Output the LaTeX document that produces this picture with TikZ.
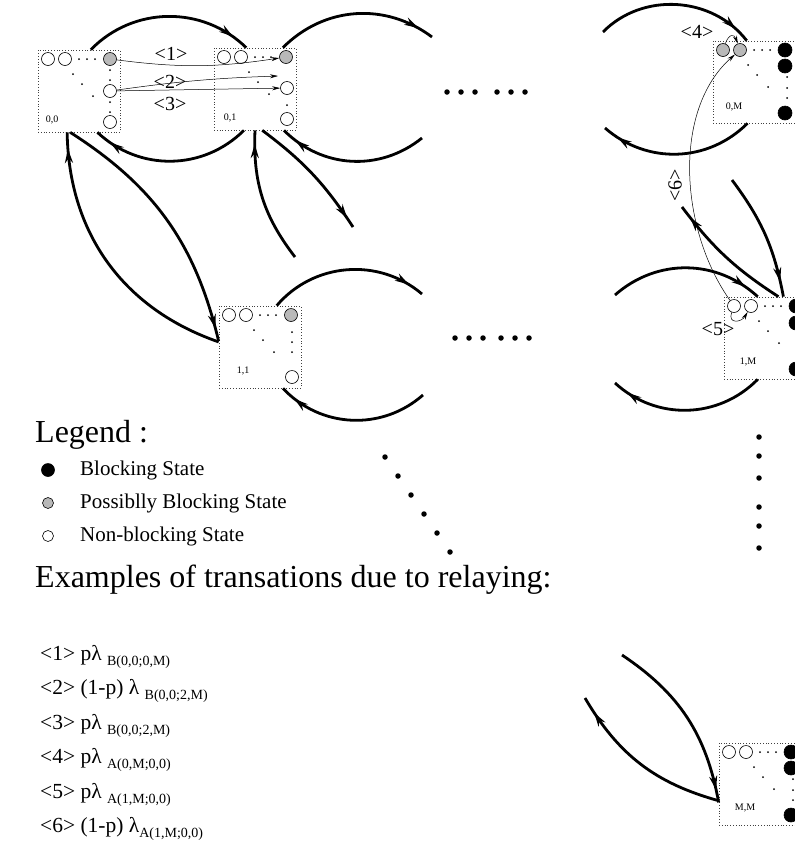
\documentclass[tikz,border=0pt]{standalone}
\usepackage{fontspec}
\setmainfont{Liberation Serif}
\usetikzlibrary{arrows.meta, decorations.markings}

% lowered index after a rate
\newcommand{\rsub}[1]{\raisebox{-5pt}{\fontsize{14}{16}\selectfont #1}}

% one state: dotted frame, top row of circles, diagonal dots, extra column
\newcommand{\statebox}[7]{%
  \begin{scope}[shift={(#2)}]
    \node[stbox] (#1) at (41,41) {};
    \node[boxlabel] (#1-lab) at (#4) {#3};
    \node[#5] (#1-a) at (10,9) {};
    \node[#5] (#1-b) at (27,9) {};
    \node[#6] (#1-c) at (72,9) {};
    \foreach \x [count=\i] in {41,49,57}
      \node[sdot] (#1-r\i) at (\x,9) {};
    \foreach \x/\y [count=\i] in {35/24,44/34,55/46}
      \node[sdot] (#1-d\i) at (\x,\y) {};
    #7
  \end{scope}}

\begin{document}
\begin{tikzpicture}[x=1pt, y=-1pt,
    stbox/.style={rectangle, draw=black!75, dash pattern=on 0.7pt off 2.1pt,
                  line width=0.7pt, minimum width=82pt, minimum height=82pt, inner sep=0pt},
    nonblk/.style={circle, draw, line width=0.6pt, fill=white, minimum size=13pt, inner sep=0pt},
    posblk/.style={nonblk, fill=gray!55},
    blk/.style={nonblk, fill=black, minimum size=14pt},
    sdot/.style={circle, fill=black, minimum size=2pt, inner sep=0pt},
    bdot/.style={circle, fill=black, minimum size=5.5pt, inner sep=0pt},
    boxlabel/.style={font=\fontsize{10}{12}\selectfont, inner sep=0pt},
    tag/.style={font=\fontsize{20}{24}\selectfont, inner sep=1pt},
    flow/.style={line width=2.8pt, postaction={decorate, decoration={markings,
                 mark=at position #1 with {\arrow{Stealth[length=14pt,width=8pt]}}}}},
    flow/.default=0.9,
    relay/.style={-{Stealth[length=8pt,width=4pt]}, line width=0.5pt},
    head/.style={font=\fontsize{32}{38}\selectfont, inner sep=0pt, anchor=base west},
    item/.style={font=\fontsize{21}{25}\selectfont, inner sep=0pt, anchor=west},
    rate/.style={font=\fontsize{21.5}{25}\selectfont, inner sep=0pt, anchor=base west}
  ]
  \useasboundingbox (0,0) rectangle (795,847);
  \clip (0,0) rectangle (795,847);

  % states
  \statebox{s00}{38,50}{0,0}{14,70}{nonblk}{posblk}{%
    \node[nonblk] (s00-m) at (72,41) {};
    \node[nonblk] (s00-e) at (72,72) {};
    \foreach \y [count=\i] in {20,30,52,62} \node[sdot] (s00-v\i) at (72,\y) {};}
  \statebox{s01}{214,48}{0,1}{16,70}{nonblk}{posblk}{%
    \node[nonblk] (s01-m) at (73,40) {};
    \node[nonblk] (s01-e) at (73,71) {};
    \node[sdot] (s01-v1) at (73,57) {};}
  \statebox{s11}{219,306}{1,1}{24,65}{nonblk}{posblk}{%
    \node[nonblk] (s11-e) at (73,71) {};
    \foreach \y [count=\i] in {26,36,46} \node[sdot] (s11-v\i) at (73,\y) {};}
  \statebox{s0M}{713,41}{0,M}{21,66}{posblk}{blk}{%
    \node[blk] (s0M-s) at (72,25) {};
    \node[blk] (s0M-e) at (72,72) {};
    \foreach \y [count=\i] in {36,47,57} \node[sdot] (s0M-v\i) at (74,\y) {};}
  \statebox{s1M}{724,297}{1,M}{24,65}{nonblk}{blk}{%
    \node[blk] (s1M-s) at (72,26) {};
    \node[blk] (s1M-e) at (72,72) {};
    \foreach \y [count=\i] in {37,48,58} \node[sdot] (s1M-v\i) at (74,\y) {};}
  \statebox{sMM}{719,743}{M,M}{26,65}{nonblk}{blk}{%
    \node[blk] (sMM-s) at (72,25) {};
    \node[blk] (sMM-e) at (72,72) {};
    \foreach \y [count=\i] in {36,47,57} \node[sdot] (sMM-v\i) at (74,\y) {};}

  % loose ends of the chain
  \coordinate (e03) at (432,37);
  \coordinate (e04) at (422,138);
  \coordinate (e05) at (603,32);
  \coordinate (e06) at (605,128);
  \coordinate (e13) at (422,294);
  \coordinate (e14) at (423,395);
  \coordinate (e15) at (615,295);
  \coordinate (e16) at (615,383);
  \coordinate (e21) at (295,257);
  \coordinate (e22) at (353,227);
  \coordinate (e31) at (732,180);
  \coordinate (e32) at (682,207);
  \coordinate (e41) at (622,655);
  \coordinate (e42) at (585,698);

  % transitions
  \draw[flow] (s00.74) to[bend left=45] (s01.102);
  \draw[flow] (s01.-105) to[bend left=44] (s00.-66);
  \draw[flow] (s01.56) to[bend left=41] (e03);
  \draw[flow] (e04) to[bend left=42] (s01.-55);
  \draw[flow] (e05) to[bend left=49] (s0M.100);
  \draw[flow] (s0M.-99) to[bend left=43] (e06);
  \draw[flow] (s11.68) to[bend left=45] (e13);
  \draw[flow] (e14) to[bend left=44] (s11.-61);
  \draw[flow] (e15) to[bend left=42] (s1M.100);
  \draw[flow] (s1M.-100) to[bend left=44] (e16);
  \draw[flow=0.94] (s11.173) to[bend left=35] (s00.-106);
  \draw[flow=0.95] (s00.-102) to[bend left=22] (s11.172);
  \draw[flow] (e21) to[bend left=20] (s01.-90);
  \draw[flow=0.92] (s01.-80) to[bend left=10] (e22);
  \draw[flow=0.88] (e31) to[bend left=13] (s1M.66);
  \draw[flow] (s1M.72) to[bend left=10] (e32);
  \draw[flow=0.93] (e41) to[bend left=23] (sMM.-156);
  \draw[flow] (sMM.-158) to[bend left=22] (e42);

  % relaying transitions
  \coordinate (r2) at (278,76);
  \draw[relay] (s00-c) to[bend right=8] (s01-c);
  \draw[relay] (s00-m) to[bend left=3] (r2);
  \draw[relay] (s00-m) -- (s01-m);
  \draw[relay] (s0M-a) to[out=70,in=110,looseness=2.2] (s0M-b);
  \draw[relay] (s1M-a) to[out=-110,in=-120,looseness=2] (s1M-b);
  \draw[relay] (s1M-a) .. controls (680,230) and (672,110) .. (s0M-b);
  \node[tag] (t1) at (171,54) {<1>};
  \node[tag] (t2) at (170,82) {<2>};
  \node[tag] (t3) at (170,104) {<3>};
  \node[tag] (t4) at (697,32) {<4>};
  \node[tag] (t5) at (718,329) {<5>};
  \node[tag, rotate=90] (t6) at (675,185) {<6>};

  % omitted states
  \foreach \x [count=\i] in {447,461,475,497,511,525}
    \node[bdot] (h0\i) at (\x,92) {};
  \foreach \x [count=\i] in {455,469,483,501,515,529}
    \node[bdot] (h1\i) at (\x,338) {};
  \foreach \y [count=\i] in {437,456,478,507,526,548}
    \node[bdot] (vM\i) at (759,\y) {};
  \foreach \k in {0,...,5}
    \node[bdot] (dg\k) at (385+13*\k,457+19*\k) {};

  % legend
  \node[head] (leg) at (35,442) {Legend :};
  \node[blk, minimum size=13pt] (lg1) at (48,470) {};
  \node[posblk, minimum size=11pt] (lg2) at (48,503) {};
  \node[nonblk, minimum size=11pt] (lg3) at (48,536) {};
  \node[item] (lgt1) at (80,470) {Blocking State};
  \node[item] (lgt2) at (80,503) {Possiblly Blocking State};
  \node[item] (lgt3) at (80,536) {Non-blocking State};

  % rates of the numbered transitions
  \foreach \txt [count=\i] in {%
      {<1> pλ \rsub{B(0,0;0,M)}},
      {<2> (1-p) λ \rsub{B(0,0;2,M)}},
      {<3> pλ \rsub{B(0,0;2,M)}},
      {<4> pλ \rsub{A(0,M;0,0)}},
      {<5> pλ \rsub{A(1,M;0,0)}},
      {<6> (1-p) λ\rsub{A(1,M;0,0)}}}
    \node[rate] (q\i) at (40,626+34.4*\i) {\txt};
  \node[head] (ex) at (35,587) {Examples of transations due to relaying:};
\end{tikzpicture}
\end{document}
